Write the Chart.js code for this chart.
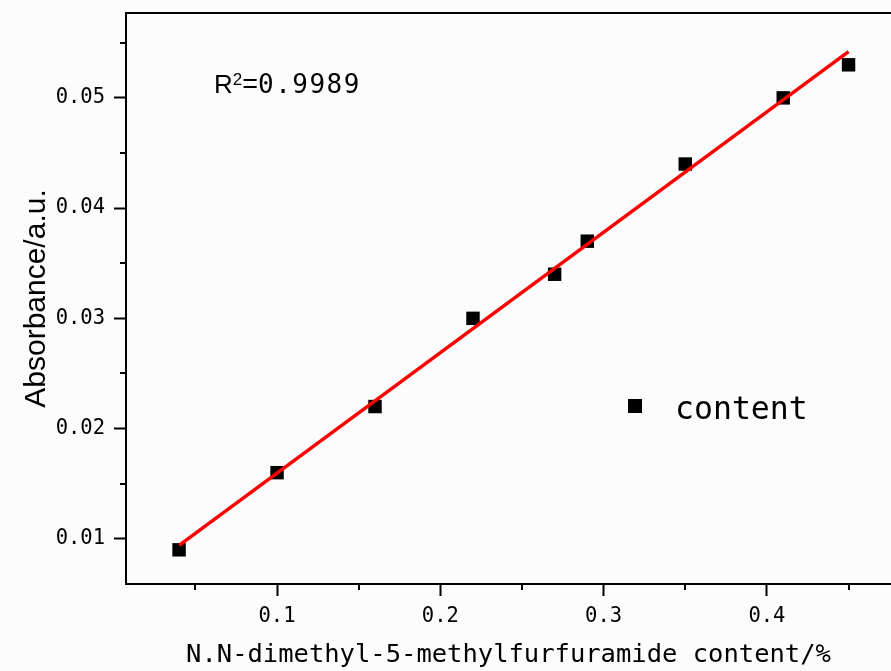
<!DOCTYPE html>
<html>
<head>
<meta charset="utf-8">
<script src="https://cdn.jsdelivr.net/npm/chart.js@4.4.1/dist/chart.umd.min.js"></script>
<style>
  html, body { margin: 0; padding: 0; background: #fcfcfc; overflow: hidden; }
</style>
</head>
<body>
<canvas id="myChart" width="891" height="671"></canvas>
<script>
// measured points
const contentX = [0.04, 0.10, 0.16, 0.22, 0.27, 0.29, 0.35, 0.41, 0.45];
const absorbance = [0.009, 0.016, 0.022, 0.030, 0.034, 0.037, 0.044, 0.050, 0.053];
// fitted line at its two ends
const fitX = [0.04, 0.45];
const fitY = [0.0094, 0.0542];
const xTicks = [0.1, 0.2, 0.3, 0.4];
const xMinor = [0.05, 0.15, 0.25, 0.35, 0.45];
const yTicks = [0.01, 0.02, 0.03, 0.04, 0.05];
const yMinor = [0.015, 0.025, 0.035, 0.045, 0.055];
const rSquared = '0.9989';
const seriesName = 'content';

const mono = '"DejaVu Sans Mono", "Liberation Mono", monospace';
const sans = '"Liberation Sans", Arial, sans-serif';

const extras = {
    id: 'extras',
    afterDraw(chart) {
        const c = chart.ctx;
        const a = chart.chartArea;
        const xs = chart.scales.x, ys = chart.scales.y;
        c.save();
        c.strokeStyle = '#000';
        c.lineWidth = 2;
        // top frame line
        c.beginPath();
        c.moveTo(a.left - 1, a.top);
        c.lineTo(a.right, a.top);
        c.stroke();
        // minor ticks
        c.beginPath();
        xMinor.forEach(v => {
            const px = Math.round(xs.getPixelForValue(v));
            c.moveTo(px, a.bottom);
            c.lineTo(px, a.bottom + 6);
        });
        yMinor.forEach(v => {
            const py = Math.round(ys.getPixelForValue(v));
            c.moveTo(a.left, py);
            c.lineTo(a.left - 6, py);
        });
        c.stroke();

        // R^2 label
        c.fillStyle = '#000';
        c.textBaseline = 'alphabetic';
        c.textAlign = 'left';
        let x = 214;
        c.font = '26px ' + sans;
        c.fillText('R', x, 93);
        x += c.measureText('R').width;
        c.font = '17px ' + sans;
        c.fillText('2', x, 85);
        x += c.measureText('2').width;
        c.font = '27px ' + sans;
        c.fillText('=', x, 93);
        x += c.measureText('=').width;
        c.font = '26px ' + mono;
        c.letterSpacing = '1.5px';
        c.fillText(rSquared, x, 93);
        c.letterSpacing = '0px';

        // legend
        c.fillRect(628, 399, 14, 14);
        c.font = '31.5px ' + mono;
        c.fillText(seriesName, 675, 419);
        c.restore();
    }
};

const ctx = document.getElementById('myChart');
new Chart(ctx, {
    type: 'scatter',
    data: {
        datasets: [
            {
                type: 'line',
                label: 'fit',
                data: fitX.map((v, i) => ({ x: v, y: fitY[i] })),
                borderColor: '#ff0000',
                borderWidth: 3.5,
                pointRadius: 0,
                fill: false
            },
            {
                label: seriesName,
                data: contentX.map((v, i) => ({ x: v, y: absorbance[i] })),
                pointStyle: 'rect',
                pointRadius: 9.5,
                backgroundColor: '#000',
                borderWidth: 0
            }
        ]
    },
    options: {
        responsive: false,
        animation: false,
        devicePixelRatio: 1,
        layout: { autoPadding: false, padding: { left: 0, right: 0, top: 13, bottom: 0 } },
        plugins: {
            legend: { display: false },
            tooltip: { enabled: false }
        },
        scales: {
            x: {
                type: 'linear',
                position: 'bottom',
                min: 0.0075,
                max: 0.476,
                afterBuildTicks: s => { s.ticks = xTicks.map(v => ({ value: v })); },
                afterFit: s => { s.height = 87; s.paddingLeft = 0; s.paddingRight = 0; },
                grid: { display: true, drawOnChartArea: false, tickLength: 12, tickWidth: 2, tickColor: '#000' },
                border: { color: '#000', width: 2 },
                ticks: {
                    color: '#000',
                    font: { family: mono, size: 20.5 },
                    padding: 8,
                    maxRotation: 0,
                    callback: v => v.toFixed(1)
                },
                title: {
                    display: true,
                    text: 'N.N-dimethyl-5-methylfurfuramide content/%',
                    color: '#000',
                    font: { family: mono, size: 25.5 },
                    padding: { top: 0, bottom: 0 }
                }
            },
            y: {
                type: 'linear',
                min: 0.0059,
                max: 0.0577,
                afterBuildTicks: s => { s.ticks = yTicks.map(v => ({ value: v })); },
                afterFit: s => { s.width = 126; s.paddingTop = 0; s.paddingBottom = 0; },
                grid: { display: true, drawOnChartArea: false, tickLength: 12, tickWidth: 2, tickColor: '#000' },
                border: { color: '#000', width: 2 },
                ticks: {
                    color: '#000',
                    font: { family: mono, size: 20.5 },
                    padding: 9,
                    callback: v => v.toFixed(2)
                },
                title: {
                    display: true,
                    text: 'Absorbance/a.u.',
                    color: '#000',
                    font: { family: sans, size: 30 },
                    padding: { top: 19, bottom: 0 }
                }
            }
        }
    },
    plugins: [extras]
});
</script>
</body>
</html>
